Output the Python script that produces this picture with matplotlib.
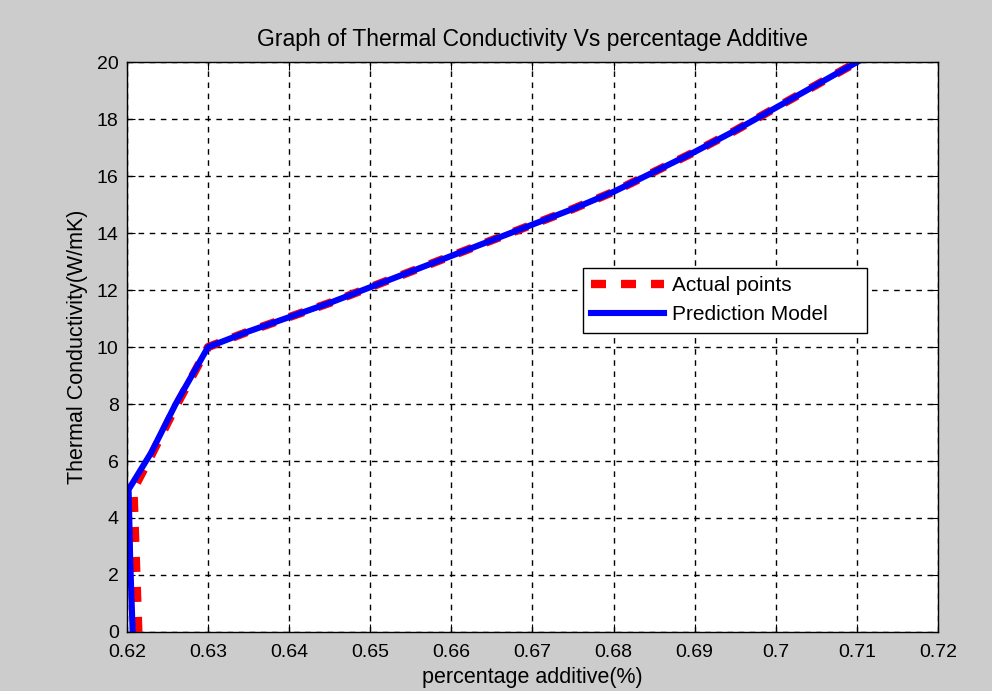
import numpy as np
import matplotlib.pyplot as plt

plt.rcParams['font.family'] = ['Liberation Sans', 'DejaVu Sans']

# actual measured points (red dashed)
actual_x = [0.6214, 0.6211, 0.6208, 0.6230, 0.6260, 0.6300, 0.6350, 0.6400, 0.6450,
            0.6500, 0.6550, 0.6600, 0.6650, 0.6700, 0.6750, 0.6800, 0.6850,
            0.6900, 0.6950, 0.7000, 0.7050, 0.7100]
actual_y = [0.0, 2.5, 5.0, 6.2, 7.9, 10.0, 10.55, 11.05, 11.55,
            12.1, 12.65, 13.2, 13.75, 14.3, 14.85, 15.45, 16.15,
            16.85, 17.6, 18.4, 19.2, 20.0]

# prediction model (blue solid)
model_x = [0.6207, 0.6204, 0.6202, 0.6230, 0.6260, 0.6300, 0.6350, 0.6400, 0.6450,
           0.6500, 0.6550, 0.6600, 0.6650, 0.6700, 0.6750, 0.6800, 0.6850,
           0.6900, 0.6950, 0.7000, 0.7050, 0.7100]
model_y = [0.0, 2.5, 5.0, 6.3, 8.0, 10.0, 10.55, 11.05, 11.55,
           12.1, 12.65, 13.2, 13.75, 14.3, 14.85, 15.45, 16.15,
           16.85, 17.6, 18.4, 19.2, 20.0]

xticks = [0.62, 0.63, 0.64, 0.65, 0.66, 0.67, 0.68, 0.69, 0.70, 0.71, 0.72]
xlabels = ['0.62', '0.63', '0.64', '0.65', '0.66', '0.67', '0.68', '0.69', '0.7', '0.71', '0.72']
yticks = list(range(0, 21, 2))

fig = plt.figure(figsize=(9.92, 6.91), dpi=100, facecolor='#cccccc')
ax = fig.add_axes([0.128, 0.0855, 0.8175, 0.8245])
ax.set_facecolor('white')

ax.plot(actual_x, actual_y, color='red', lw=6.0, linestyle=(0, (1.8, 1.8)),
        dash_capstyle='butt', label='Actual points')
ax.plot(model_x, model_y, color='blue', lw=4.4, label='Prediction Model')

ax.set_xlim(0.62, 0.72)
ax.set_ylim(0, 20)
ax.set_xticks(xticks)
ax.set_xticklabels(xlabels)
ax.set_yticks(yticks)
ax.grid(True, color='black', linestyle=(0, (4, 4)), lw=1)
ax.tick_params(direction='in', top=True, right=True, labelsize=14, length=6)
ax.tick_params(axis='x', pad=9)
ax.tick_params(axis='y', pad=6)
for s in ax.spines.values():
    s.set_linewidth(1)

ax.set_title('Graph of Thermal Conductivity Vs percentage Additive', fontsize=16.5, pad=12)
ax.set_xlabel('percentage additive(%)', fontsize=15.5, labelpad=4)
ax.set_ylabel('Thermal Conductivity(W/mK)', fontsize=15.5, labelpad=6)

leg = ax.legend(loc='lower left', bbox_to_anchor=(0.562, 0.525, 0.35, 0.122),
                mode='expand', fontsize=15, fancybox=False, framealpha=1,
                edgecolor='black', handlelength=3.5, handletextpad=0.4,
                borderaxespad=0)
leg.get_frame().set_linewidth(1)

fig.savefig('out.png', dpi=100, facecolor=fig.get_facecolor())
